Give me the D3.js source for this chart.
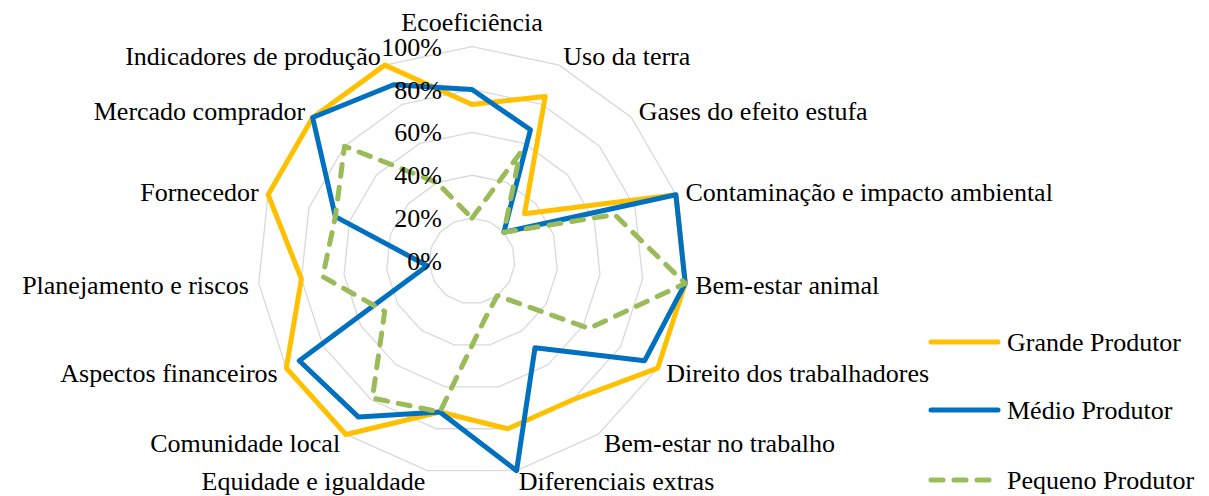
<!DOCTYPE html>
<meta charset="utf-8">
<style>
body { margin: 0; background: #fff; font-family: "Liberation Serif", serif; }
#wrap { width: 1209px; height: 496px; }
</style>

<div id="wrap"><svg class="chart"></svg></div>
<script src="https://d3js.org/d3.v7.min.js"></script>

<script>

var categories = ["Ecoeficiência", "Uso da terra", "Gases do efeito estufa",
  "Contaminação e impacto ambiental", "Bem-estar animal", "Direito dos trabalhadores",
  "Bem-estar no trabalho", "Diferenciais extras", "Equidade e igualdade",
  "Comunidade local", "Aspectos financeiros", "Planejamento e riscos",
  "Fornecedor", "Mercado comprador", "Indicadores de produção"];

var grande  = [73, 84, 33, 100, 100, 100, 80, 80, 72, 100, 100, 80, 100, 100, 100];
var medio   = [80, 67, 20, 100, 100, 93, 50, 100, 72, 90, 93, 21, 67, 100, 90];
var pequeno = [20, 55, 20, 70, 100, 63, 20, 28, 72, 79, 47, 70, 67, 80, 40];

var seriesNames = ["Grande Produtor", "Médio Produtor", "Pequeno Produtor"];
var tickValues = [0, 20, 40, 60, 80, 100];

var width = 1209, height = 496,
    cx = 472, cy = 261,
    radius = 214.4,
    font = "Liberation Serif, Times New Roman, serif";

var series = [
  {name: seriesNames[0], values: grande,  color: "#FFC000", dash: null},
  {name: seriesNames[1], values: medio,   color: "#0070C0", dash: null},
  {name: seriesNames[2], values: pequeno, color: "#9BBB59", dash: "12,11"}
];

var n = categories.length;

var r = d3.scaleLinear().domain([0, 100]).range([0, radius]);
var angle = d3.scaleLinear().domain([0, n]).range([0, 2 * Math.PI]);

var svg = d3.select(".chart")
    .attr("width", width)
    .attr("height", height)
    .attr("font-family", font)
    .attr("font-size", 26);

var g = svg.append("g")
    .attr("transform", "translate(" + cx + "," + cy + ")");

// grid rings
var ring = d3.lineRadial()
    .angle(function(d, i) { return angle(i); })
    .radius(function(d) { return r(d); })
    .curve(d3.curveLinearClosed);

g.selectAll(".grid")
    .data(tickValues.filter(function(t) { return t > 0; }))
  .enter().append("path")
    .attr("class", "grid")
    .attr("d", function(t) { return ring(d3.range(n).map(function() { return t; })); })
    .attr("fill", "none")
    .attr("stroke", "#d9d9d9")
    .attr("stroke-width", 1.3);

// series
var line = d3.lineRadial()
    .angle(function(d, i) { return angle(i); })
    .radius(function(d) { return r(d); })
    .curve(d3.curveLinearClosed);

g.selectAll(".serie")
    .data(series)
  .enter().append("path")
    .attr("class", "serie")
    .attr("d", function(s) { return line(s.values); })
    .attr("fill", "none")
    .attr("stroke", function(s) { return s.color; })
    .attr("stroke-width", 5)
    .attr("stroke-linejoin", "round")
    .attr("stroke-linecap", "round")
    .attr("stroke-dasharray", function(s) { return s.dash; });

// tick labels
g.selectAll(".tick")
    .data(tickValues)
  .enter().append("text")
    .attr("class", "tick")
    .attr("x", -30)
    .attr("y", function(t) { return -r(t); })
    .attr("dy", "0.35em")
    .attr("text-anchor", "end")
    .text(function(t) { return t + "%"; });

// category labels
var labelDist = radius + 10;
g.selectAll(".cat")
    .data(categories)
  .enter().append("text")
    .attr("class", "cat")
    .attr("x", function(d, i) { return labelDist * Math.sin(angle(i)); })
    .attr("y", function(d, i) {
      var c = Math.cos(angle(i));
      return -labelDist * c - (c > 0.95 ? 15 : 0);
    })
    .attr("dy", "0.35em")
    .attr("text-anchor", function(d, i) {
      var s = Math.sin(angle(i));
      return s > 0.05 ? "start" : (s < -0.05 ? "end" : "middle");
    })
    .text(function(d) { return d; });

// legend
var legend = svg.selectAll(".legend")
    .data(series)
  .enter().append("g")
    .attr("class", "legend")
    .attr("transform", function(d, i) { return "translate(929," + [342, 410, 480][i] + ")"; });

legend.append("line")
    .attr("x1", 2).attr("x2", 69)
    .attr("stroke", function(s) { return s.color; })
    .attr("stroke-width", 5)
    .attr("stroke-linecap", "round")
    .attr("stroke-dasharray", function(s) { return s.dash; });

legend.append("text")
    .attr("x", 78)
    .attr("dy", "0.35em")
    .text(function(s) { return s.name; });

</script>
